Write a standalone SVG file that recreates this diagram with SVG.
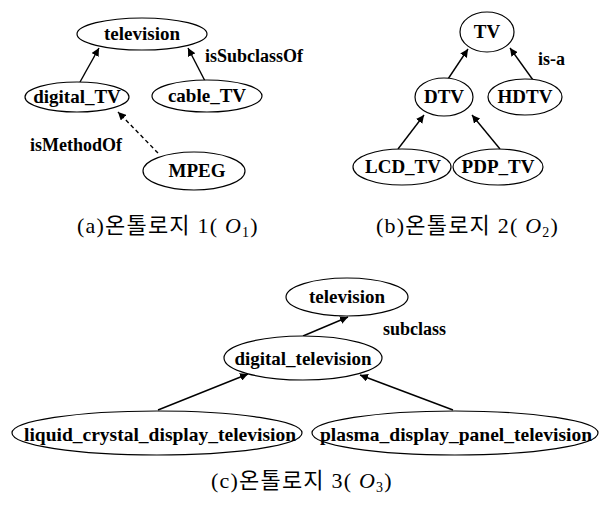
<svg xmlns="http://www.w3.org/2000/svg" width="600" height="505" viewBox="0 0 600 505">
  <style>
    .serif { font-family: 'Liberation Serif', 'Times New Roman', 'DejaVu Serif', serif; }
    .node ellipse { fill: #fff; stroke: #000; stroke-width: 1.2; }
    .node text { font-weight: bold; font-size: 19px; text-anchor: middle; fill: #000; }
    .elabel { font-weight: bold; font-size: 18px; fill: #000; }
    .edge { stroke: #000; stroke-width: 1.4; fill: none; marker-end: url(#arrow); }
    .dashed { stroke-dasharray: 4 3; }
    .caption { font-family: 'Liberation Serif', 'Noto Sans CJK KR', serif; font-size: 22px; letter-spacing: 1.2px; fill: #000; }
    .caption .o { font-style: italic; }
  </style>
  <defs>
    <marker id="arrow" viewBox="0 0 10 10" refX="10" refY="5" markerWidth="8" markerHeight="8" markerUnits="userSpaceOnUse" orient="auto">
      <path d="M0,0 L10,5 L0,10 z" fill="#000"/>
    </marker>
  </defs>
  <rect width="600" height="505" fill="#fff"/>

  <!-- connectors -->
  <g id="connectors">
    <!-- (a) -->
    <line class="edge" x1="80" y1="82" x2="99" y2="48"/>
    <line class="edge" x1="205" y1="81" x2="188" y2="48"/>
    <line class="edge dashed" x1="158" y1="153" x2="118" y2="112"/>
    <!-- (b) -->
    <line class="edge" x1="448" y1="79" x2="468" y2="49"/>
    <line class="edge" x1="533" y1="80" x2="510" y2="48"/>
    <line class="edge" x1="398" y1="149" x2="424" y2="115"/>
    <line class="edge" x1="500" y1="149" x2="472" y2="115"/>
    <!-- (c) -->
    <line class="edge" x1="303" y1="336" x2="348" y2="317"/>
    <line class="edge" x1="158" y1="410" x2="248" y2="374"/>
    <line class="edge" x1="453" y1="410" x2="360" y2="375"/>
  </g>

  <g class="serif">
    <!-- edge labels -->
    <text class="elabel" x="205" y="62">isSubclassOf</text>
    <text class="elabel" x="30" y="151" font-size="19.5">isMethodOf</text>
    <text class="elabel" x="538" y="65">is-a</text>
    <text class="elabel" x="383" y="335">subclass</text>

    <!-- (a) ontology 1 -->
    <g id="a-television" class="node"><ellipse cx="142" cy="34" rx="65" ry="16"/><text x="142" y="40">television</text></g>
    <g id="a-digital_TV" class="node"><ellipse cx="77" cy="97" rx="52" ry="15"/><text x="77" y="103">digital_TV</text></g>
    <g id="a-cable_TV" class="node"><ellipse cx="207" cy="96" rx="55" ry="16"/><text x="207" y="102">cable_TV</text></g>
    <g id="a-MPEG" class="node"><ellipse cx="194" cy="171" rx="51" ry="19"/><text x="197" y="177">MPEG</text></g>

    <!-- (b) ontology 2 -->
    <g id="b-TV" class="node"><ellipse cx="487" cy="32" rx="27" ry="20"/><text x="487" y="38">TV</text></g>
    <g id="b-DTV" class="node"><ellipse cx="444" cy="97" rx="29" ry="19"/><text x="444" y="103">DTV</text></g>
    <g id="b-HDTV" class="node"><ellipse cx="525" cy="97" rx="37" ry="18"/><text x="525" y="103">HDTV</text></g>
    <g id="b-LCD_TV" class="node"><ellipse cx="402" cy="167" rx="49" ry="18"/><text x="403" y="173">LCD_TV</text></g>
    <g id="b-PDP_TV" class="node"><ellipse cx="498" cy="167" rx="45" ry="18"/><text x="498" y="173">PDP_TV</text></g>

    <!-- (c) ontology 3 -->
    <g id="c-television" class="node"><ellipse cx="347" cy="297" rx="61" ry="19"/><text x="347" y="303">television</text></g>
    <g id="c-digital_television" class="node"><ellipse cx="303" cy="358" rx="79" ry="22"/><text x="303" y="365">digital_television</text></g>
    <g id="c-liquid" class="node"><ellipse cx="157" cy="433" rx="145" ry="22"/><text x="160" y="441" textLength="272" lengthAdjust="spacingAndGlyphs">liquid_crystal_display_television</text></g>
    <g id="c-plasma" class="node"><ellipse cx="455" cy="433" rx="143" ry="22"/><text x="456" y="441" textLength="272" lengthAdjust="spacingAndGlyphs">plasma_display_panel_television</text></g>
  </g>

  <!-- captions -->
  <text class="caption" x="77" y="233">(a)온톨로지 1( <tspan class="o">O</tspan><tspan font-size="14" dy="4">1</tspan><tspan dy="-4">)</tspan></text>
  <text class="caption" x="376" y="233">(b)온톨로지 2( <tspan class="o">O</tspan><tspan font-size="14" dy="4">2</tspan><tspan dy="-4">)</tspan></text>
  <text class="caption" x="211" y="488">(c)온톨로지 3( <tspan class="o">O</tspan><tspan font-size="14" dy="4">3</tspan><tspan dy="-4">)</tspan></text>
</svg>
